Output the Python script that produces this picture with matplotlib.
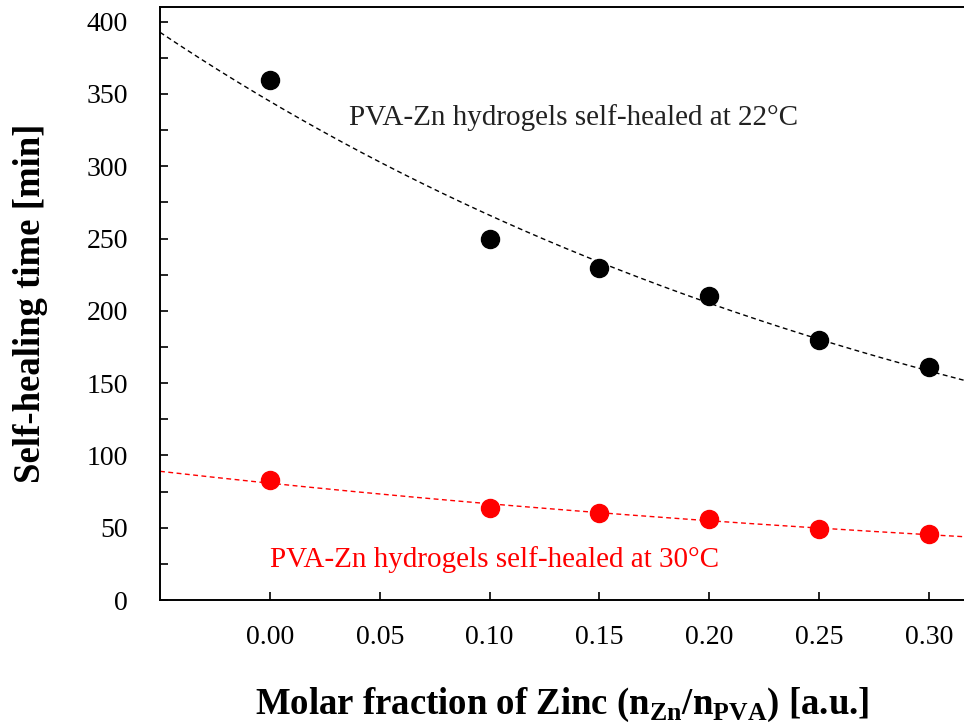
import matplotlib
matplotlib.use("Agg")
import matplotlib.pyplot as plt
import numpy as np
from matplotlib.ticker import MultipleLocator, FormatStrFormatter

zinc_fraction = [0.00, 0.10, 0.15, 0.20, 0.25, 0.30]
time_22c = [360, 250, 230, 210, 180, 161]
time_30c = [83, 64, 60, 56, 49, 46]

label_22c = "PVA-Zn hydrogels self-healed at 22°C"
label_30c = "PVA-Zn hydrogels self-healed at 30°C"

plt.rcParams["font.family"] = ["Liberation Serif", "DejaVu Serif"]
plt.rcParams["mathtext.fontset"] = "custom"
plt.rcParams["mathtext.rm"] = "Liberation Serif:bold"

x_min, x_max = -0.05, 0.316


def exp_fit(x, y):
    # exponential trend line, fitted on log(y)
    slope, intercept = np.polyfit(x, np.log(y), 1)
    xs = np.linspace(x_min, x_max, 200)
    return xs, np.exp(intercept + slope * xs)


fig = plt.figure(figsize=(9.64, 7.23), dpi=100)
ax = fig.add_axes([0.166, 0.170, 0.834, 0.820])

xs, ys = exp_fit(zinc_fraction, time_22c)
ax.plot(xs, ys, color="black", lw=1.0, dashes=(3.5, 2.5))
xs, ys = exp_fit(zinc_fraction, time_30c)
ax.plot(xs, ys, color="red", lw=1.0, dashes=(3.5, 2.5))

ax.plot(zinc_fraction, time_22c, "o", color="black", ms=13)
ax.plot(zinc_fraction, time_30c, "o", color="red", ms=13)

ax.text(0.036, 334, label_22c, fontsize=21, color="#222222", va="center")
ax.text(0.0, 28, label_30c, fontsize=21, color="red", va="center")

ax.set_xlim(x_min, x_max)
ax.set_ylim(0, 410)
ax.set_xticks([0.00, 0.05, 0.10, 0.15, 0.20, 0.25, 0.30])
ax.xaxis.set_major_formatter(FormatStrFormatter("%.2f"))
ax.yaxis.set_major_locator(MultipleLocator(50))
ax.yaxis.set_minor_locator(MultipleLocator(25))
ax.tick_params(axis="both", which="both", direction="in", length=6, width=1.2,
               labelsize=20)
ax.tick_params(axis="x", pad=18)
ax.tick_params(axis="y", pad=23)
for side in ["left", "bottom", "top"]:
    ax.spines[side].set_linewidth(1.4)
ax.spines["right"].set_visible(False)

ax.set_ylabel("Self-healing time [min]", fontsize=26.5, fontweight="bold", labelpad=28)
ax.set_xlabel(r"Molar fraction of Zinc (n$_{\mathrm{Zn}}$/n$_{\mathrm{PVA}}$) [a.u.]",
              fontsize=26.5, fontweight="bold", labelpad=26)

fig.savefig("out.png", dpi=100)
